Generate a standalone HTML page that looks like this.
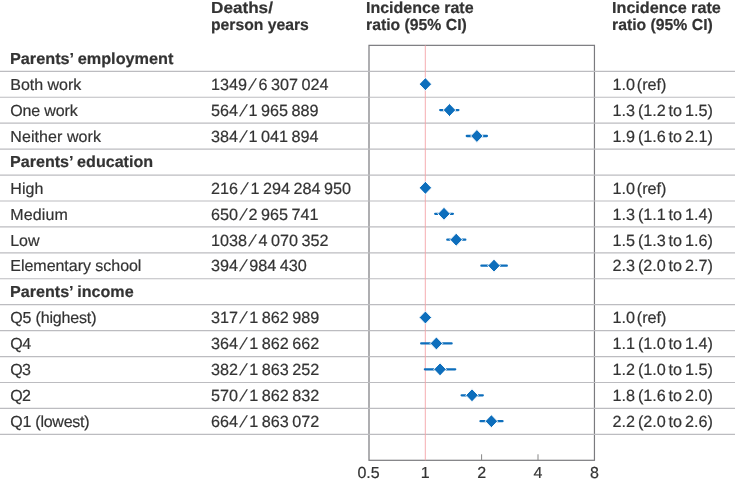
<!DOCTYPE html>
<html lang="en">
<head>
<meta charset="utf-8">
<title>Incidence rate ratios by parental socioeconomic status</title>
<style>
html,body{margin:0;padding:0;background:#fff;}
body{width:735px;height:479px;overflow:hidden;position:relative;font-family:"Liberation Sans", sans-serif;font-size:16.0px;color:#333;text-rendering:geometricPrecision;-webkit-text-stroke:0.2px #333;}
svg{position:absolute;left:0;top:0;}
.t{position:absolute;white-space:pre;line-height:20px;height:20px;}
.b{font-weight:bold;font-size:16.0px;transform-origin:0 0;}
.n{font-size:16.2px;}
.s{display:inline-block;transform:skewX(-19deg);}
</style>
</head>
<body>
<svg width="735" height="479" viewBox="0 0 735 479">
<rect x="369.0" y="45.35" width="225.45" height="414.95" fill="none" stroke="#7a7a7e" stroke-width="1.2"/>
<line x1="0" x2="735" y1="71.33" y2="71.33" stroke="#bcbcc0" stroke-width="1.2"/>
<line x1="0" x2="735" y1="97.26" y2="97.26" stroke="#bcbcc0" stroke-width="1.2"/>
<line x1="0" x2="735" y1="123.19" y2="123.19" stroke="#bcbcc0" stroke-width="1.2"/>
<line x1="0" x2="735" y1="149.12" y2="149.12" stroke="#bcbcc0" stroke-width="1.2"/>
<line x1="0" x2="735" y1="175.05" y2="175.05" stroke="#bcbcc0" stroke-width="1.2"/>
<line x1="0" x2="735" y1="200.98" y2="200.98" stroke="#bcbcc0" stroke-width="1.2"/>
<line x1="0" x2="735" y1="226.91" y2="226.91" stroke="#bcbcc0" stroke-width="1.2"/>
<line x1="0" x2="735" y1="252.84" y2="252.84" stroke="#bcbcc0" stroke-width="1.2"/>
<line x1="0" x2="735" y1="278.77" y2="278.77" stroke="#bcbcc0" stroke-width="1.2"/>
<line x1="0" x2="735" y1="304.70" y2="304.70" stroke="#bcbcc0" stroke-width="1.2"/>
<line x1="0" x2="735" y1="330.63" y2="330.63" stroke="#bcbcc0" stroke-width="1.2"/>
<line x1="0" x2="735" y1="356.56" y2="356.56" stroke="#bcbcc0" stroke-width="1.2"/>
<line x1="0" x2="735" y1="382.49" y2="382.49" stroke="#bcbcc0" stroke-width="1.2"/>
<line x1="0" x2="735" y1="408.42" y2="408.42" stroke="#bcbcc0" stroke-width="1.2"/>
<line x1="0" x2="735" y1="434.35" y2="434.35" stroke="#bcbcc0" stroke-width="1.2"/>
<line x1="481.6" x2="481.6" y1="454.30" y2="460.3" stroke="#878787" stroke-width="1"/>
<line x1="538.0" x2="538.0" y1="454.30" y2="460.3" stroke="#878787" stroke-width="1"/>
<line x1="425.3" x2="425.3" y1="45.35" y2="460.3" stroke="#f4a4a8" stroke-width="0.9"/>
<path d="M419.15 84.13L425.40 77.63L431.65 84.13L425.40 90.63Z" fill="#0d6ebc" stroke="#fff" stroke-width="1"/>
<line x1="440.20" x2="458.40" y1="110.06" y2="110.06" stroke="#0d6ebc" stroke-width="2.3" stroke-linecap="round"/>
<path d="M443.25 110.06L449.50 103.56L455.75 110.06L449.50 116.56Z" fill="#0d6ebc" stroke="#fff" stroke-width="1"/>
<line x1="466.80" x2="486.90" y1="135.99" y2="135.99" stroke="#0d6ebc" stroke-width="2.3" stroke-linecap="round"/>
<path d="M470.65 135.99L476.90 129.49L483.15 135.99L476.90 142.49Z" fill="#0d6ebc" stroke="#fff" stroke-width="1"/>
<path d="M419.15 187.85L425.40 181.35L431.65 187.85L425.40 194.35Z" fill="#0d6ebc" stroke="#fff" stroke-width="1"/>
<line x1="435.20" x2="452.90" y1="213.78" y2="213.78" stroke="#0d6ebc" stroke-width="2.3" stroke-linecap="round"/>
<path d="M437.75 213.78L444.00 207.28L450.25 213.78L444.00 220.28Z" fill="#0d6ebc" stroke="#fff" stroke-width="1"/>
<line x1="447.30" x2="465.30" y1="239.71" y2="239.71" stroke="#0d6ebc" stroke-width="2.3" stroke-linecap="round"/>
<path d="M449.95 239.71L456.20 233.21L462.45 239.71L456.20 246.21Z" fill="#0d6ebc" stroke="#fff" stroke-width="1"/>
<line x1="481.40" x2="506.80" y1="265.64" y2="265.64" stroke="#0d6ebc" stroke-width="2.3" stroke-linecap="round"/>
<path d="M487.75 265.64L494.00 259.14L500.25 265.64L494.00 272.14Z" fill="#0d6ebc" stroke="#fff" stroke-width="1"/>
<path d="M419.15 317.50L425.40 311.00L431.65 317.50L425.40 324.00Z" fill="#0d6ebc" stroke="#fff" stroke-width="1"/>
<line x1="421.20" x2="451.60" y1="343.43" y2="343.43" stroke="#0d6ebc" stroke-width="2.3" stroke-linecap="round"/>
<path d="M430.15 343.43L436.40 336.93L442.65 343.43L436.40 349.93Z" fill="#0d6ebc" stroke="#fff" stroke-width="1"/>
<line x1="424.90" x2="455.20" y1="369.36" y2="369.36" stroke="#0d6ebc" stroke-width="2.3" stroke-linecap="round"/>
<path d="M433.80 369.36L440.05 362.86L446.30 369.36L440.05 375.86Z" fill="#0d6ebc" stroke="#fff" stroke-width="1"/>
<line x1="461.65" x2="482.80" y1="395.29" y2="395.29" stroke="#0d6ebc" stroke-width="2.3" stroke-linecap="round"/>
<path d="M465.75 395.29L472.00 388.79L478.25 395.29L472.00 401.79Z" fill="#0d6ebc" stroke="#fff" stroke-width="1"/>
<line x1="480.50" x2="502.50" y1="421.22" y2="421.22" stroke="#0d6ebc" stroke-width="2.3" stroke-linecap="round"/>
<path d="M485.15 421.22L491.40 414.72L497.65 421.22L491.40 427.72Z" fill="#0d6ebc" stroke="#fff" stroke-width="1"/>
</svg>
<div class="t b" style="left:10.30px;top:50px;transform:scaleX(1.0152);">Parents’ employment</div>
<div class="t" style="left:10.30px;top:76px;letter-spacing:-0.016px;">Both work</div>
<div class="t" style="left:10.30px;top:102px;letter-spacing:-0.159px;">One work</div>
<div class="t" style="left:10.30px;top:128px;letter-spacing:0.082px;">Neither work</div>
<div class="t b" style="left:10.30px;top:153px;transform:scaleX(1.0059);">Parents’ education</div>
<div class="t" style="left:10.30px;top:180px;letter-spacing:0.048px;">High</div>
<div class="t" style="left:10.30px;top:206px;letter-spacing:0.116px;">Medium</div>
<div class="t" style="left:10.30px;top:232px;letter-spacing:-0.086px;">Low</div>
<div class="t" style="left:10.30px;top:257px;letter-spacing:-0.031px;">Elementary school</div>
<div class="t b" style="left:10.30px;top:283px;transform:scaleX(1.0072);">Parents’ income</div>
<div class="t" style="left:10.30px;top:309px;letter-spacing:-0.171px;">Q5 (highest)</div>
<div class="t" style="left:10.30px;top:335px;letter-spacing:-0.522px;">Q4</div>
<div class="t" style="left:10.30px;top:361px;letter-spacing:-0.672px;">Q3</div>
<div class="t" style="left:10.30px;top:387px;letter-spacing:-0.672px;">Q2</div>
<div class="t" style="left:10.30px;top:413px;letter-spacing:-0.254px;">Q1 (lowest)</div>
<div class="t n" style="left:210.90px;top:75px;word-spacing:-1.0px;">1349<span class="s" style="margin:0 3.53px">/</span>6 307 024</div>
<div class="t n" style="left:210.90px;top:101px;word-spacing:-1.0px;">564<span class="s" style="margin:0 3.03px">/</span>1 965 889</div>
<div class="t n" style="left:210.90px;top:127px;word-spacing:-1.0px;">384<span class="s" style="margin:0 3.03px">/</span>1 041 894</div>
<div class="t n" style="left:210.90px;top:179px;word-spacing:-1.0px;">216<span class="s" style="margin:0 4.03px">/</span>1 294 284 950</div>
<div class="t n" style="left:210.90px;top:205px;word-spacing:-1.0px;">650<span class="s" style="margin:0 3.03px">/</span>2 965 741</div>
<div class="t n" style="left:210.90px;top:231px;word-spacing:-1.0px;">1038<span class="s" style="margin:0 3.53px">/</span>4 070 352</div>
<div class="t n" style="left:210.90px;top:256px;word-spacing:-1.0px;">394<span class="s" style="margin:0 3.43px">/</span>984 430</div>
<div class="t n" style="left:210.90px;top:308px;word-spacing:-1.0px;">317<span class="s" style="margin:0 3.38px">/</span>1 862 989</div>
<div class="t n" style="left:210.90px;top:334px;word-spacing:-1.0px;">364<span class="s" style="margin:0 3.38px">/</span>1 862 662</div>
<div class="t n" style="left:210.90px;top:360px;word-spacing:-1.0px;">382<span class="s" style="margin:0 3.38px">/</span>1 863 252</div>
<div class="t n" style="left:210.90px;top:386px;word-spacing:-1.0px;">570<span class="s" style="margin:0 3.38px">/</span>1 862 832</div>
<div class="t n" style="left:210.90px;top:412px;word-spacing:-1.0px;">664<span class="s" style="margin:0 3.38px">/</span>1 863 072</div>
<div class="t n" style="left:612.60px;top:75px;word-spacing:-2.8px;">1.0 (ref)</div>
<div class="t n" style="left:612.60px;top:101px;word-spacing:-1.7px;">1.3 (1.2 to 1.5)</div>
<div class="t n" style="left:612.60px;top:127px;word-spacing:-1.7px;">1.9 (1.6 to 2.1)</div>
<div class="t n" style="left:612.60px;top:179px;word-spacing:-2.8px;">1.0 (ref)</div>
<div class="t n" style="left:612.60px;top:205px;word-spacing:-1.7px;">1.3 (1.1 to 1.4)</div>
<div class="t n" style="left:612.60px;top:231px;word-spacing:-1.7px;">1.5 (1.3 to 1.6)</div>
<div class="t n" style="left:612.60px;top:256px;word-spacing:-1.7px;">2.3 (2.0 to 2.7)</div>
<div class="t n" style="left:612.60px;top:308px;word-spacing:-2.8px;">1.0 (ref)</div>
<div class="t n" style="left:612.60px;top:334px;word-spacing:-1.7px;">1.1 (1.0 to 1.4)</div>
<div class="t n" style="left:612.60px;top:360px;word-spacing:-1.7px;">1.2 (1.0 to 1.5)</div>
<div class="t n" style="left:612.60px;top:386px;word-spacing:-1.7px;">1.8 (1.6 to 2.0)</div>
<div class="t n" style="left:612.60px;top:412px;word-spacing:-1.7px;">2.2 (2.0 to 2.6)</div>
<div class="t b" style="left:210.60px;top:-1px;transform:scaleX(1.0710);">Deaths/</div>
<div class="t b" style="left:210.60px;top:16px;transform:scaleX(0.9818);">person years</div>
<div class="t b" style="left:366.10px;top:-1px;transform:scaleX(0.9999);">Incidence rate</div>
<div class="t b" style="left:366.10px;top:16px;transform:scaleX(0.9858);">ratio (95% CI)</div>
<div class="t b" style="left:612.00px;top:-1px;transform:scaleX(1.0111);">Incidence rate</div>
<div class="t b" style="left:612.00px;top:16px;transform:scaleX(0.9858);">ratio (95% CI)</div>
<div class="t" style="left:357.48px;top:464px;">0.5</div>
<div class="t" style="left:420.75px;top:464px;">1</div>
<div class="t" style="left:477.15px;top:464px;">2</div>
<div class="t" style="left:533.55px;top:464px;">4</div>
<div class="t" style="left:589.95px;top:464px;">8</div>
</body>
</html>
